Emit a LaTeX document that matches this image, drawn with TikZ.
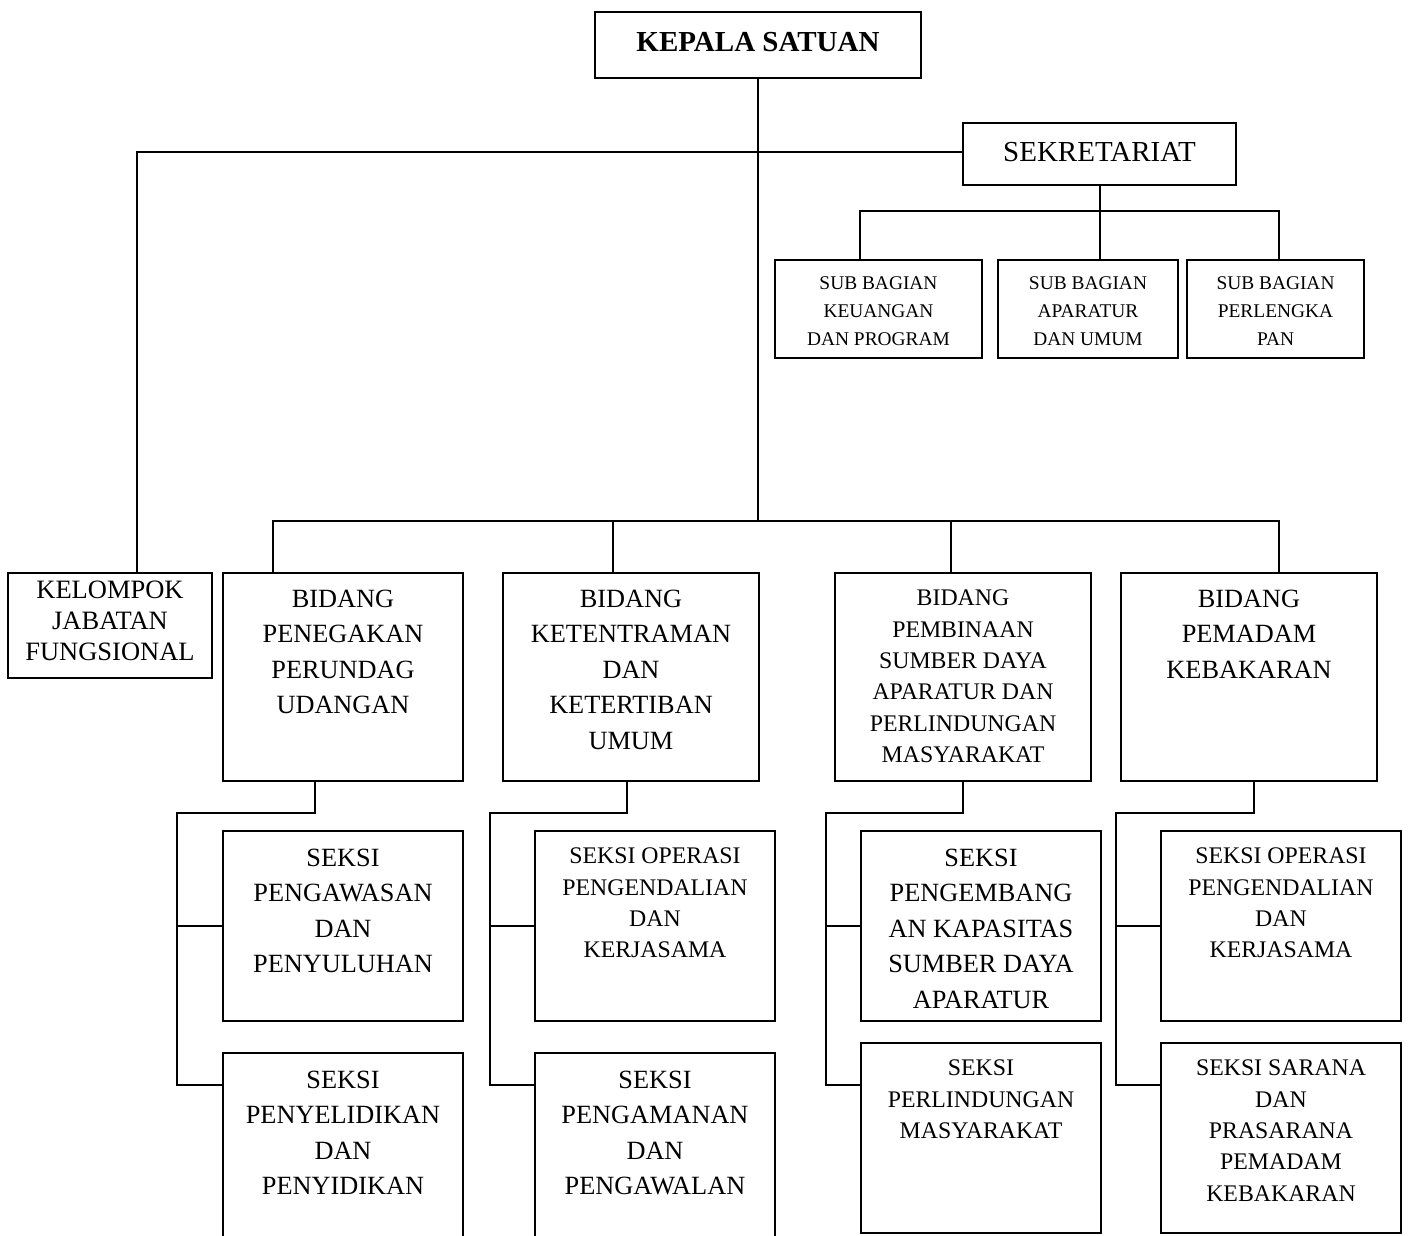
\documentclass[tikz,border=0pt]{standalone}
\usepackage{fontspec}
\setmainfont{Liberation Serif}
\usetikzlibrary{positioning}

\tikzset{
  unit/.style={draw, line width=1pt, inner sep=0pt},
  bidang/.style={unit, minimum width=128pt, minimum height=104pt},
  seksi/.style={unit, minimum width=120pt, minimum height=95pt},
  subbag/.style={unit, minimum height=49pt},
  bigtxt/.style={inner sep=0pt, align=center, font=\fontsize{13.15}{17.75}\selectfont},
  midtxt/.style={inner sep=0pt, align=center, font=\fontsize{11.9}{15.7}\selectfont},
  smalltxt/.style={inner sep=0pt, align=center, font=\fontsize{9.7}{14}\selectfont}
}

\begin{document}
\begin{tikzpicture}[x=0.5pt, y=-0.5pt, line width=1pt]
            \clip (0,0) rectangle (1408,1236);

            % Kepala and Sekretariat
            \node[unit, minimum width=163pt, minimum height=33pt, text depth=3pt, font=\fontsize{14.5}{17}\selectfont\bfseries] (kepala) at (758,45) {KEPALA SATUAN};
            \node[unit, minimum width=136.5pt, minimum height=31pt, text depth=2pt, font=\fontsize{14.5}{17}\selectfont] (sekre) at (1099.5,154) {SEKRETARIAT};

            % Sub bagian
            \node[subbag, minimum width=103.5pt] (sb1) at (878.5,309) {};
            \node[subbag, minimum width=90pt] (sb2) at (1088,309) {};
            \node[subbag, minimum width=88.5pt] (sb3) at (1275.5,309) {};
            \node[smalltxt, below=8.3pt of sb1.north] (sb1t) {SUB BAGIAN\\KEUANGAN\\DAN PROGRAM};
            \node[smalltxt, below=8.3pt of sb2.north] (sb2t) {SUB BAGIAN\\APARATUR\\DAN UMUM};
            \node[smalltxt, below=8.3pt of sb3.north] (sb3t) {SUB BAGIAN\\PERLENGKA\\PAN};

            % Kelompok jabatan fungsional
            \node[unit, minimum width=102pt, minimum height=52.5pt] (klp) at (110,625.5) {};
            \node[inner sep=0pt, align=center, font=\fontsize{13.25}{15.5}\selectfont, below=4pt of klp.north] (klpt) {KELOMPOK\\JABATAN\\FUNGSIONAL};

            % Bidang
            \node[bidang, minimum width=120pt] (bd1) at (343,677) {};
            \node[bidang] (bd2) at (631,677) {};
            \node[bidang] (bd3) at (963,677) {};
            \node[bidang] (bd4) at (1249,677) {};
            \node[bigtxt, below=8.5pt of bd1.north] (bd1t) {BIDANG\\PENEGAKAN\\PERUNDAG\\UDANGAN};
            \node[bigtxt, below=8.5pt of bd2.north] (bd2t) {BIDANG\\KETENTRAMAN\\DAN\\KETERTIBAN\\UMUM};
            \node[midtxt, below=8.5pt of bd3.north] (bd3t) {BIDANG\\PEMBINAAN\\SUMBER DAYA\\APARATUR DAN\\PERLINDUNGAN\\MASYARAKAT};
            \node[bigtxt, below=8.5pt of bd4.north] (bd4t) {BIDANG\\PEMADAM\\KEBAKARAN};

            % Seksi
            \node[seksi] (s11) at (343,926) {};
            \node[seksi] (s12) at (343,1148) {};
            \node[seksi] (s21) at (655,926) {};
            \node[seksi] (s22) at (655,1148) {};
            \node[seksi] (s31) at (981,926) {};
            \node[seksi] (s32) at (981,1138) {};
            \node[seksi] (s41) at (1281,926) {};
            \node[seksi] (s42) at (1281,1138) {};
            \node[bigtxt, below=9pt of s11.north] (s11t) {SEKSI\\PENGAWASAN\\DAN\\PENYULUHAN};
            \node[bigtxt, below=9pt of s12.north] (s12t) {SEKSI\\PENYELIDIKAN\\DAN\\PENYIDIKAN};
            \node[midtxt, below=8.5pt of s21.north] (s21t) {SEKSI OPERASI\\PENGENDALIAN\\DAN\\KERJASAMA};
            \node[bigtxt, below=9pt of s22.north] (s22t) {SEKSI\\PENGAMANAN\\DAN\\PENGAWALAN};
            \node[bigtxt, below=9pt of s31.north] (s31t) {SEKSI\\PENGEMBANG\\AN KAPASITAS\\SUMBER DAYA\\APARATUR};
            \node[midtxt, below=8.5pt of s32.north] (s32t) {SEKSI\\PERLINDUNGAN\\MASYARAKAT};
            \node[midtxt, below=8.5pt of s41.north] (s41t) {SEKSI OPERASI\\PENGENDALIAN\\DAN\\KERJASAMA};
            \node[midtxt, below=8.5pt of s42.north] (s42t) {SEKSI SARANA\\DAN\\PRASARANA\\PEMADAM\\KEBAKARAN};

            % Junctions
            \coordinate (k1) at (137,152);
            \coordinate (sbL) at (860,211);
            \coordinate (sbR) at (1279,211);
            \coordinate (d1) at (273,521);
            \coordinate (d2) at (613,521);
            \coordinate (d3) at (951,521);
            \coordinate (d4) at (1279,521);
            \coordinate (e1) at (315,813);
            \coordinate (c1) at (177,813);
            \coordinate (f1) at (177,1085);
            \coordinate (e2) at (627,813);
            \coordinate (c2) at (490,813);
            \coordinate (f2) at (490,1085);
            \coordinate (e3) at (963,813);
            \coordinate (c3) at (826,813);
            \coordinate (f3) at (826,1085);
            \coordinate (e4) at (1254,813);
            \coordinate (c4) at (1116,813);
            \coordinate (f4) at (1116,1085);

            % Edges from the top
            \draw (kepala.south) -- (kepala.south |- d1);
            \draw (d1 |- bd1.north) -- (d1) -- (d4) -- (d4 |- bd4.north);
            \draw (d2) -- (d2 |- bd2.north);
            \draw (d3) -- (d3 |- bd3.north);
            \draw (sekre.west |- k1) -- (k1) -- (k1 |- klp.north);
            \draw (sekre.south) -- (sekre.south |- sbL);
            \draw (sbL |- sb1.north) -- (sbL) -- (sbR) -- (sbR |- sb3.north);
            \draw (sekre.south |- sbL) -- (sekre.south |- sb2.north);

            % Edges below each bidang
            \draw (e1 |- bd1.south) -- (e1) -- (c1) -- (f1) -- (f1 -| s12.west);
            \draw (c1 |- s11.west) -- (s11.west);
            \draw (e2 |- bd2.south) -- (e2) -- (c2) -- (f2) -- (f2 -| s22.west);
            \draw (c2 |- s21.west) -- (s21.west);
            \draw (e3 |- bd3.south) -- (e3) -- (c3) -- (f3) -- (f3 -| s32.west);
            \draw (c3 |- s31.west) -- (s31.west);
            \draw (e4 |- bd4.south) -- (e4) -- (c4) -- (f4) -- (f4 -| s42.west);
            \draw (c4 |- s41.west) -- (s41.west);
        \end{tikzpicture}
\end{document}
